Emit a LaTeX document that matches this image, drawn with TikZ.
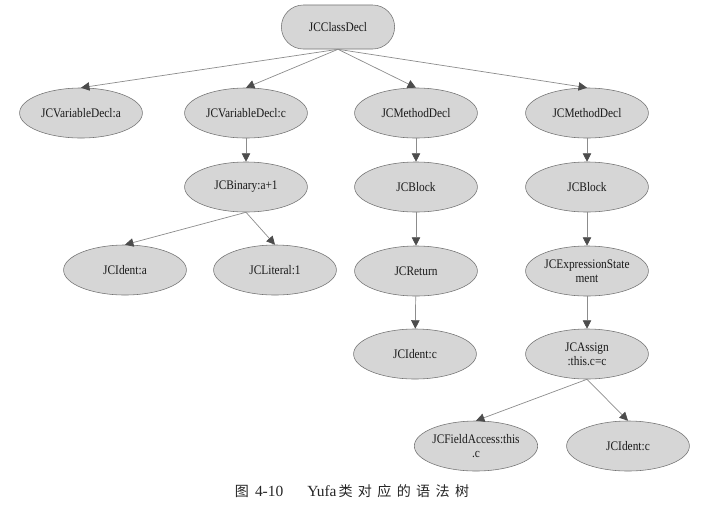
\documentclass[tikz,border=0pt]{standalone}
\usepackage{fontspec}
\setmainfont{Liberation Serif}
\newfontfamily\nodefont[FakeStretch=0.87]{Liberation Serif}
\newfontfamily\cjk[LetterSpace=38]{Noto Sans CJK SC}
\usepackage{tikz}
\usetikzlibrary{arrows.meta,shapes.geometric,positioning}

\begin{document}
\begin{tikzpicture}[x=0.025cm,y=-0.025cm,
		tnode/.style={ellipse,draw=gray!90!black,fill=gray!32,minimum width=3.07cm,minimum height=1.25cm,inner sep=0pt,align=center,font=\nodefont\fontsize{9.3}{10}\selectfont,text=black!90},
		rootnode/.style={draw=gray!90!black,fill=gray!32,rounded corners=0.55cm,minimum width=2.83cm,minimum height=1.1cm,font=\nodefont\fontsize{9.3}{10}\selectfont,text=black!90},
		edge/.style={draw=gray!90,line width=0.5pt,-{Triangle[length=6pt,width=6pt,color=black!70]}}]
		\useasboundingbox (0,0) rectangle (709,515);
		% root
		\node[rootnode] (cls) at (338,27) {JCClassDecl};
		% first level
		\node[tnode] (vara) at (81,113) {JCVariableDecl:a};
		\node[tnode] (varc) at (246,113) {JCVariableDecl:c};
		\node[tnode] (meth1) at (416,113) {JCMethodDecl};
		\node[tnode] (meth2) at (587,113) {JCMethodDecl};
		% second level
		\node[tnode] (bin) at (246,187) {JCBinary:a+1};
		\node[tnode] (blk1) at (416,187) {JCBlock};
		\node[tnode] (blk2) at (587,187) {JCBlock};
		% third level
		\node[tnode] (ida) at (125,270) {JCIdent:a};
		\node[tnode] (lit) at (275,270) {JCLiteral:1};
		\node[tnode] (ret) at (416,271) {JCReturn};
		\node[tnode] (expr) at (587,271) {JCExpressionState\\ment};
		% fourth level
		\node[tnode] (idc) at (415,354) {JCIdent:c};
		\node[tnode] (asg) at (587,354) {JCAssign\\:this.c=c};
		% fifth level
		\node[tnode] (fld) at (476,446) {JCFieldAccess:this\\.c};
		\node[tnode] (idc2) at (628,446) {JCIdent:c};
		% edges
		\draw[edge] (cls.south) -- (vara.north);
		\draw[edge] (cls.south) -- (varc.north);
		\draw[edge] (cls.south) -- (meth1.north);
		\draw[edge] (cls.south) -- (meth2.north);
		\draw[edge] (varc) -- (bin);
		\draw[edge] (bin.south) -- (ida.north);
		\draw[edge] (bin.south) -- (lit.north);
		\draw[edge] (meth1) -- (blk1);
		\draw[edge] (blk1) -- (ret);
		\draw[edge] (ret) -- (idc);
		\draw[edge] (meth2) -- (blk2);
		\draw[edge] (blk2) -- (expr);
		\draw[edge] (expr) -- (asg);
		\draw[edge] (asg.south) -- (fld.north);
		\draw[edge] (asg.south) -- (idc2.north);
		% caption
		\node[font=\fontsize{11}{12}\selectfont,text=black!85] (cap) at (352,491) {{\cjk\fontsize{10}{12}\selectfont 图}\hspace{0.15cm}4-10\hspace{0.6cm}Yufa\hspace{0.05cm}{\cjk\fontsize{10}{12}\selectfont 类对应的语法树}};
		\end{tikzpicture}
\end{document}
